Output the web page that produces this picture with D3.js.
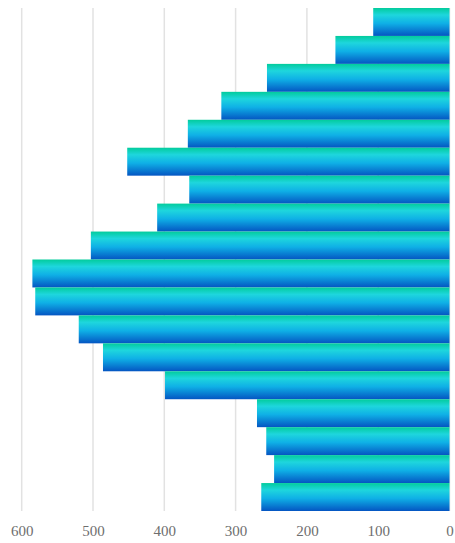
<!DOCTYPE html>
<html>
<head>
<meta charset="utf-8">
<script src="https://cdn.jsdelivr.net/npm/d3@7"></script>
<style>
  html, body { margin: 0; padding: 0; background: #fff; }
  svg { display: block; }
</style>
</head>
<body>
<svg id="chart" width="455" height="543"></svg>
<script>
// Row identifiers, top to bottom
const categories = ["1","2","3","4","5","6","7","8","9","10","11","12","13","14","15","16","17","18"];
// Bar lengths, top to bottom
const values = [107, 160, 256, 320, 367, 452, 365, 410, 503, 585, 581, 520, 486, 399, 270, 257, 246, 264];
// Axis ticks
const tickValues = [600, 500, 400, 300, 200, 100, 0];

const svg = d3.select("#chart");
const margin = { top: 8, right: 5.5, bottom: 32, left: 21.7 };
const W = 455, H = 543;

// Reversed axis: zero on the right, bars grow leftward
const x = d3.scaleLinear().domain([0, 600]).range([W - margin.right, margin.left]);
const y = d3.scaleBand().domain(categories).range([margin.top, H - margin.bottom]).padding(0);

const defs = svg.append("defs");
const grad = defs.append("linearGradient")
  .attr("id", "barFill").attr("x1", 0).attr("y1", 0).attr("x2", 0).attr("y2", 1);
[[0, "#02cc9c"], [0.25, "#1ed6dd"], [0.55, "#0fb0e6"], [1, "#0455c2"]].forEach(([o, c]) =>
  grad.append("stop").attr("offset", o).attr("stop-color", c));

// Vertical grid lines
svg.append("g").selectAll("line").data(tickValues).join("line")
  .attr("x1", d => x(d)).attr("x2", d => x(d))
  .attr("y1", margin.top).attr("y2", H - margin.bottom)
  .attr("stroke", "#e2e2e2").attr("stroke-width", 1.5);

// Bars
svg.append("g").selectAll("rect").data(values).join("rect")
  .attr("x", d => x(d))
  .attr("y", (d, i) => y(categories[i]))
  .attr("width", d => x(0) - x(d))
  .attr("height", y.bandwidth())
  .attr("fill", "url(#barFill)");

// Bottom axis labels
const axis = svg.append("g")
  .attr("transform", `translate(0,${H - margin.bottom})`)
  .call(d3.axisBottom(x).tickValues(tickValues).tickSize(0).tickPadding(14).tickFormat(d3.format("d")));
axis.select(".domain").remove();
axis.selectAll("text")
  .attr("fill", "#6e6e6e")
  .style("font-family", "'Liberation Serif', 'DejaVu Serif', serif")
  .style("font-size", "15px");
</script>
</body>
</html>
